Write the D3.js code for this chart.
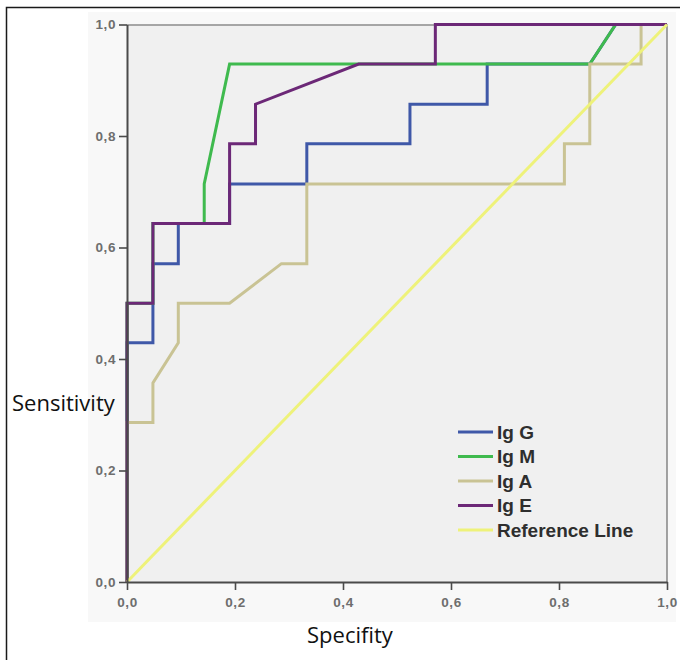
<!DOCTYPE html>
<html>
<head>
<meta charset="utf-8">
<script src="https://cdn.jsdelivr.net/npm/d3@7"></script>
<style>
  html, body { margin: 0; padding: 0; background: #fff; }
  svg { display: block; }
</style>
</head>
<body>
<svg></svg>
<script>
// ROC curves (x = 1 - specificity, y = sensitivity)
var igG = [[0,0],[0,.429],[.048,.429],[.048,.571],[.095,.571],[.095,.643],[.190,.643],[.190,.714],
           [.333,.714],[.333,.786],[.524,.786],[.524,.857],[.667,.857],[.667,.929],[.857,.929],[.905,1],[1,1]];
var igM = [[0,0],[0,.5],[.048,.5],[.048,.643],[.143,.643],[.143,.714],[.190,.929],[.857,.929],[.905,1],[1,1]];
var igA = [[0,0],[0,.286],[.048,.286],[.048,.357],[.095,.429],[.095,.5],[.190,.5],[.286,.571],[.333,.571],
           [.333,.714],[.810,.714],[.810,.786],[.857,.786],[.857,.929],[.952,.929],[.952,1],[1,1]];
var igE = [[0,0],[0,.5],[.048,.5],[.048,.643],[.190,.643],[.190,.786],[.238,.786],[.238,.857],
           [.429,.929],[.571,.929],[.571,1],[1,1]];
var refLine = [[0,0],[1,1]];

var seriesNames  = ['Ig G', 'Ig M', 'Ig A', 'Ig E', 'Reference Line'];
var seriesData   = [igG, igM, igA, igE, refLine];
var seriesColors = ['#3f58a8', '#3fba4e', '#c9c394', '#6c2877', '#eef27a'];

var tickValues = [0, 0.2, 0.4, 0.6, 0.8, 1.0];

var svgWidth = 680, svgHeight = 660;
var margin = { top: 24.5, right: 13, bottom: 78, left: 127 };
var innerWidth  = svgWidth  - margin.left - margin.right;
var innerHeight = svgHeight - margin.top  - margin.bottom;

var svg = d3.select('svg')
    .attr('width', svgWidth)
    .attr('height', svgHeight);

// chart background (very light) and the frame lines at left and top
svg.append('rect')
    .attr('x', 88).attr('y', 12)
    .attr('width', 588).attr('height', 610)
    .attr('fill', '#f8f8f8');

svg.append('path')
    .attr('d', `M6.5,${svgHeight}V7.5H${svgWidth}`)
    .attr('fill', 'none')
    .attr('stroke', '#1a1a1a')
    .attr('stroke-width', 1.5);

var xScale = d3.scaleLinear().domain([0, 1]).range([0, innerWidth]);
var yScale = d3.scaleLinear().domain([0, 1]).range([innerHeight, 0]);

var commaFmt = d3.formatLocale({ decimal: ',', thousands: '.', grouping: [3], currency: ['', ''] }).format('.1f');

var g = svg.append('g')
    .attr('transform', `translate(${margin.left},${margin.top})`);

// plot area
g.append('rect')
    .attr('width', innerWidth)
    .attr('height', innerHeight)
    .attr('fill', '#f0f0f0');

// top and right border of the plot
g.append('path')
    .attr('d', `M0,0.5H${innerWidth}V${innerHeight}`)
    .attr('fill', 'none')
    .attr('stroke', '#8c8c8c')
    .attr('stroke-width', 1.6);

var line = d3.line()
    .x(function(d) { return xScale(d[0]); })
    .y(function(d) { return yScale(d[1]); });

g.selectAll('path.curve')
    .data(seriesData)
    .enter()
    .append('path')
    .attr('class', 'curve')
    .attr('d', line)
    .attr('fill', 'none')
    .attr('stroke', function(d, i) { return seriesColors[i]; })
    .attr('stroke-width', 3)
    .attr('stroke-linejoin', 'miter');

var xAxis = d3.axisBottom(xScale)
    .tickValues(tickValues)
    .tickFormat(commaFmt)
    .tickSize(8)
    .tickSizeOuter(0)
    .tickPadding(7);

var yAxis = d3.axisLeft(yScale)
    .tickValues(tickValues)
    .tickFormat(commaFmt)
    .tickSize(8)
    .tickSizeOuter(0)
    .tickPadding(3);

var gx = g.append('g')
    .attr('class', 'x-axis')
    .attr('transform', `translate(0,${innerHeight})`)
    .call(xAxis);

var gy = g.append('g')
    .attr('class', 'y-axis')
    .call(yAxis);

[gx, gy].forEach(function(ax) {
    ax.select('.domain').attr('stroke', '#4a4a4a').attr('stroke-width', 2);
    ax.selectAll('.tick line').attr('stroke', '#4a4a4a').attr('stroke-width', 1.6);
    ax.selectAll('.tick text')
        .attr('fill', '#6e6e6e')
        .style('font-family', '"Liberation Sans", Arial, sans-serif')
        .style('font-weight', 'bold')
        .style('font-size', '13.5px')
        .style('letter-spacing', '0.6px');
});

// axis titles
svg.append('text')
    .attr('x', 12).attr('y', 411)
    .style('font-family', '"Open Sans", sans-serif')
    .style('font-size', '22px')
    .attr('fill', '#111')
    .text('Sensitivity');

svg.append('text')
    .attr('x', 307).attr('y', 643)
    .style('font-family', '"Open Sans", sans-serif')
    .style('font-size', '22px')
    .attr('fill', '#111')
    .text('Specifity');

// legend
var legend = svg.append('g')
    .attr('transform', 'translate(458,432)');

var item = legend.selectAll('g.item')
    .data(seriesNames)
    .enter()
    .append('g')
    .attr('class', 'item')
    .attr('transform', function(d, i) { return `translate(0,${i * 24.5})`; });

item.append('line')
    .attr('x1', 0).attr('x2', 35)
    .attr('stroke', function(d, i) { return seriesColors[i]; })
    .attr('stroke-width', 3);

item.append('text')
    .attr('x', 39)
    .attr('dy', '0.36em')
    .style('font-family', '"Liberation Sans", Arial, sans-serif')
    .style('font-weight', 'bold')
    .style('font-size', '19px')
    .attr('fill', '#2e2e2e')
    .text(function(d) { return d; });
</script>
</body>
</html>
